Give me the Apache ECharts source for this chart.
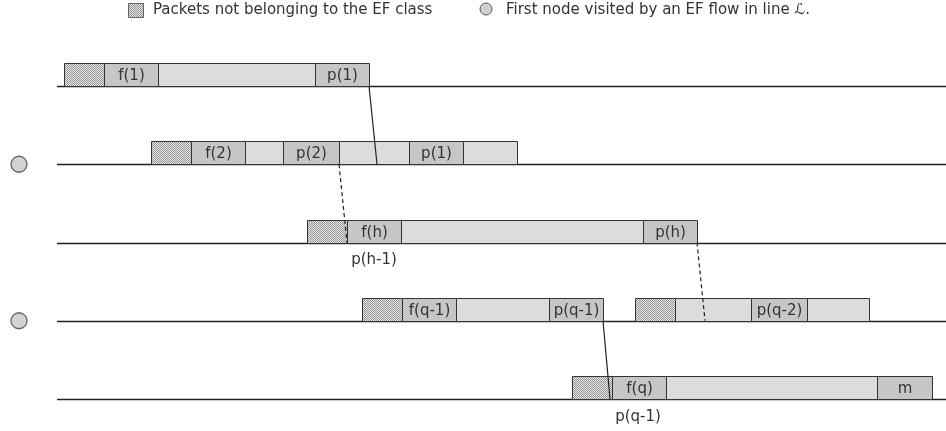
<!DOCTYPE html>
<html><head><meta charset="utf-8">
<script src="https://cdn.jsdelivr.net/npm/echarts@6/dist/echarts.min.js"></script>
<style>html,body{margin:0;padding:0;background:#fff}#c{width:946px;height:431px}</style>
</head><body><div id="c"></div>
<script>
// Packet segments per line: [start, end, kind, label]; kind: x = non-EF (hatched), d = EF packet (dark), l = other (light)
const line0 = [[64,104,'x',''],[104,158,'d','f(1)'],[158,315,'l',''],[315,369,'d','p(1)']];
const line1 = [[151,191,'x',''],[191,245,'d','f(2)'],[245,283,'l',''],[283,339,'d','p(2)'],[339,409,'l',''],[409,463,'d','p(1)'],[463,517,'l','']];
const line2 = [[307,347,'x',''],[347,401,'d','f(h)'],[401,643,'l',''],[643,697,'d','p(h)']];
const line3 = [[362,402,'x',''],[402,456,'d','f(q-1)'],[456,549,'l',''],[549,603,'d','p(q-1)'],[635,675,'x',''],[675,751,'l',''],[751,807,'d','p(q-2)'],[807,869,'l','']];
const line4 = [[572,612,'x',''],[612,666,'d','f(q)'],[666,877,'l',''],[877,932,'d','m']];
const lines = [line0, line1, line2, line3, line4];
const lineSpan = [57, 946];
const firstNodeLines = [1, 3];
const circleX = 19;
// connectors: [fromX, fromLine, toX, toLine, style]
const connectors = [[369,0,377,1,'solid'],[339,1,347,2,'dashed'],[697,2,705,3,'dashed'],[603,3,610,4,'solid']];
// labels under lines: [x, line, text]
const belowLabels = [[374,2,'p(h-1)'],[638,4,'p(q-1)']];
const legendTexts = ['Packets not belonging to the EF class','First node visited by an EF flow in line \u2112.'];

const pc = document.createElement('canvas'); pc.width = 2; pc.height = 2;
const pctx = pc.getContext('2d');
pctx.fillStyle = '#e4e4e4'; pctx.fillRect(0,0,2,2);
pctx.fillStyle = '#989898'; pctx.fillRect(0,0,1,1); pctx.fillRect(1,1,1,1);
const hatch = {image: pc, repeat: 'repeat'};
const fills = {x: hatch, d: '#c6c6c6', l: '#dcdcdc'};
const FONT = {fontFamily: 'DejaVu Sans', fontSize: 15, fill: '#333'};
const BOXH = 23;

const segData = [];
lines.forEach((ln, i) => ln.forEach(s => segData.push([s[0], s[1], i, s[2], s[3]])));
const baseData = lines.map((_, i) => [lineSpan[0], lineSpan[1], i]);

const chart = echarts.init(document.getElementById('c'), null, {renderer: 'canvas'});
chart.setOption({
  animation: false,
  grid: {left: 0, right: 0, top: 86, bottom: 32},
  xAxis: {type: 'value', min: 0, max: 946, show: false},
  yAxis: {type: 'value', min: 0, max: 4, inverse: true, show: false},
  graphic: [
    {type: 'rect', shape: {x: 128.5, y: 3.5, width: 15, height: 14}, style: {fill: hatch, stroke: '#666', lineWidth: 1}},
    {type: 'text', x: 153, y: 10, style: Object.assign({text: legendTexts[0], verticalAlign: 'middle'}, FONT)},
    {type: 'circle', shape: {cx: 486, cy: 9, r: 6}, style: {fill: '#cfcfcf', stroke: '#555', lineWidth: 1}},
    {type: 'text', x: 506, y: 10, style: Object.assign({text: legendTexts[1], verticalAlign: 'middle'}, FONT)}
  ],
  series: [
    {
      type: 'custom', clip: false, data: baseData, silent: true, z: 1,
      renderItem: (p, api) => {
        const a = api.coord([api.value(0), api.value(2)]);
        const b = api.coord([api.value(1), api.value(2)]);
        const y = Math.round(a[1]) + 0.5;
        return {type: 'line', shape: {x1: a[0], y1: y, x2: b[0], y2: y}, style: {stroke: '#222', lineWidth: 1.3}};
      }
    },
    {
      type: 'custom', clip: false, data: segData, silent: true, z: 2,
      renderItem: (p, api) => {
        const d = segData[p.dataIndex];
        const a = api.coord([d[0], d[2]]);
        const b = api.coord([d[1], d[2]]);
        const x0 = Math.round(a[0]) + 0.5, x1 = Math.round(b[0]) + 0.5, y = Math.round(a[1]) + 0.5;
        const children = [{type: 'rect', shape: {x: x0, y: y - BOXH, width: x1 - x0, height: BOXH},
          style: {fill: fills[d[3]], stroke: '#333', lineWidth: 1}}];
        if (d[4]) children.push({type: 'text', x: (x0 + x1) / 2, y: y - BOXH / 2 + 1,
          style: Object.assign({text: d[4], align: 'center', verticalAlign: 'middle'}, FONT)});
        return {type: 'group', children};
      }
    },
    {
      type: 'custom', clip: false, data: connectors.map(c => [c[0], c[1], c[2], c[3]]), silent: true, z: 3,
      renderItem: (p, api) => {
        const c = connectors[p.dataIndex];
        const a = api.coord([c[0], c[1]]);
        const b = api.coord([c[2], c[3]]);
        return {type: 'line', shape: {x1: a[0], y1: a[1], x2: b[0], y2: b[1]},
          style: {stroke: '#222', lineWidth: 1.2, lineDash: c[4] === 'dashed' ? [4, 3] : null}};
      }
    },
    {
      type: 'custom', clip: false, data: belowLabels.map(l => [l[0], l[1]]), silent: true, z: 3,
      renderItem: (p, api) => {
        const l = belowLabels[p.dataIndex];
        const a = api.coord([l[0], l[1]]);
        return {type: 'text', x: a[0], y: a[1] + 18, style: Object.assign({text: l[2], align: 'center', verticalAlign: 'middle'}, FONT)};
      }
    },
    {
      type: 'scatter', silent: true, symbol: 'circle', symbolSize: 16,
      data: firstNodeLines.map(r => [circleX, r]),
      itemStyle: {color: '#c8c8c8', borderColor: '#444', borderWidth: 1.3}, z: 4
    }
  ]
});
</script></body></html>
